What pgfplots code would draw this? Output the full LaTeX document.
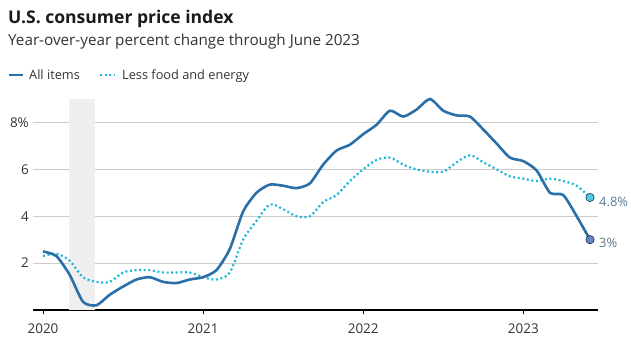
\documentclass[border=0pt]{standalone}
\usepackage{fontspec}
\setmainfont{Open Sans}
\usepackage{pgfplots}
\pgfplotsset{compat=1.18}
\definecolor{allc}{HTML}{2A6FA8}
\definecolor{corec}{HTML}{1DB7D9}
\definecolor{alldot}{HTML}{5B88BF}
\definecolor{coredot}{HTML}{4DC9E6}
\definecolor{endlab}{HTML}{5A7A94}
\definecolor{txt}{HTML}{333333}
\definecolor{ttl}{HTML}{1A1A1A}
\definecolor{gridc}{HTML}{CCCCCC}
\definecolor{recshade}{HTML}{EFEFEF}
\begin{document}
\begin{tikzpicture}[x=1bp,y=1bp]
\useasboundingbox (0,0) rectangle (631,350);
\node[anchor=base west, inner sep=0pt, text=ttl, font=\fontsize{17.6}{17.6}\selectfont\bfseries] at (8,327) {U.S. consumer price index};
\node[anchor=base west, inner sep=0pt, text=txt, font=\fontsize{15.3}{15.3}\selectfont] at (8,305) {Year-over-year percent change through June 2023};
\draw[allc, line width=2.6bp] (9,275) -- (23,275);
\node[anchor=base west, inner sep=0pt, text=txt, font=\fontsize{12.8}{12.8}\selectfont] at (29,270.5) {All items};
\draw[corec, line width=2.2bp, dash pattern=on 2bp off 2.6bp] (100,275) -- (114,275);
\node[anchor=base west, inner sep=0pt, text=txt, font=\fontsize{12.8}{12.8}\selectfont] at (122,270.5) {Less food and energy};
\begin{axis}[
  at={(33bp,40bp)}, anchor=south west, scale only axis,
  width=565bp, height=211bp,
  xmin=-0.75, xmax=41.6, ymin=0, ymax=9,
  axis x line*=bottom, axis y line*=left,
  x axis line style={black, line width=1.3bp, -},
  y axis line style={draw=none},
  xtick={0,12,24,36}, xticklabels={2020,2021,2022,2023},
  ytick={2,4,6,8}, yticklabels={2,4,6,8\%},
  xtick style={black, line width=1bp},
  ytick style={draw=none},
  tick align=outside, major tick length=4bp,
  ymajorgrids, grid style={gridc, line width=0.8bp},
  xticklabel style={anchor=north, inner sep=0pt, yshift=-10bp, text=txt, font=\fontsize{13.5}{13.5}\selectfont},
  yticklabel style={anchor=east, inner sep=0pt, xshift=0bp, text=txt, font=\fontsize{13.5}{13.5}\selectfont},
  /pgf/number format/assume math mode=true,
  clip=false,
]
\fill[recshade] (axis cs:1.95,0) rectangle (axis cs:3.9,9);
\addplot[corec, line width=2.2bp, dash pattern=on 2bp off 2.6bp, smooth, tension=0.5] coordinates {
(0,2.3)(1,2.4)(2,2.1)(3,1.4)(4,1.2)(5,1.2)(6,1.6)(7,1.7)(8,1.7)(9,1.6)(10,1.6)(11,1.6)
(12,1.4)(13,1.3)(14,1.6)(15,3.0)(16,3.8)(17,4.5)(18,4.3)(19,4.0)(20,4.0)(21,4.6)(22,4.9)(23,5.5)
(24,6.0)(25,6.4)(26,6.5)(27,6.2)(28,6.0)(29,5.9)(30,5.9)(31,6.3)(32,6.6)(33,6.3)(34,6.0)(35,5.7)
(36,5.6)(37,5.5)(38,5.6)(39,5.5)(40,5.3)(41,4.8)};
\addplot[allc, line width=2.6bp, smooth, tension=0.4] coordinates {
(0,2.5)(1,2.3)(2,1.5)(3,0.35)(4,0.2)(5,0.65)(6,1.0)(7,1.3)(8,1.4)(9,1.2)(10,1.15)(11,1.3)
(12,1.4)(13,1.7)(14,2.6)(15,4.2)(16,5.0)(17,5.35)(18,5.3)(19,5.2)(20,5.4)(21,6.2)(22,6.8)(23,7.05)
(24,7.5)(25,7.9)(26,8.5)(27,8.25)(28,8.55)(29,9.0)(30,8.5)(31,8.3)(32,8.25)(33,7.7)(34,7.1)(35,6.5)
(36,6.35)(37,5.95)(38,5.0)(39,4.9)(40,4.0)(41,3.0)};
\addplot[only marks, mark=*, mark size=4.2bp, mark options={draw=none, fill=coredot}] coordinates {(41,4.8)};
\addplot[only marks, mark=*, mark size=4.2bp, mark options={draw=none, fill=alldot}] coordinates {(41,3.0)};
\node[anchor=west, inner sep=0pt, text=endlab, font=\fontsize{13}{13}\selectfont, yshift=-4bp, xshift=9bp] at (axis cs:41,4.8) {4.8\%};
\node[anchor=west, inner sep=0pt, text=endlab, font=\fontsize{13}{13}\selectfont, yshift=-3bp, xshift=9bp] at (axis cs:41,3.0) {3\%};
\end{axis}
\end{tikzpicture}
\end{document}
